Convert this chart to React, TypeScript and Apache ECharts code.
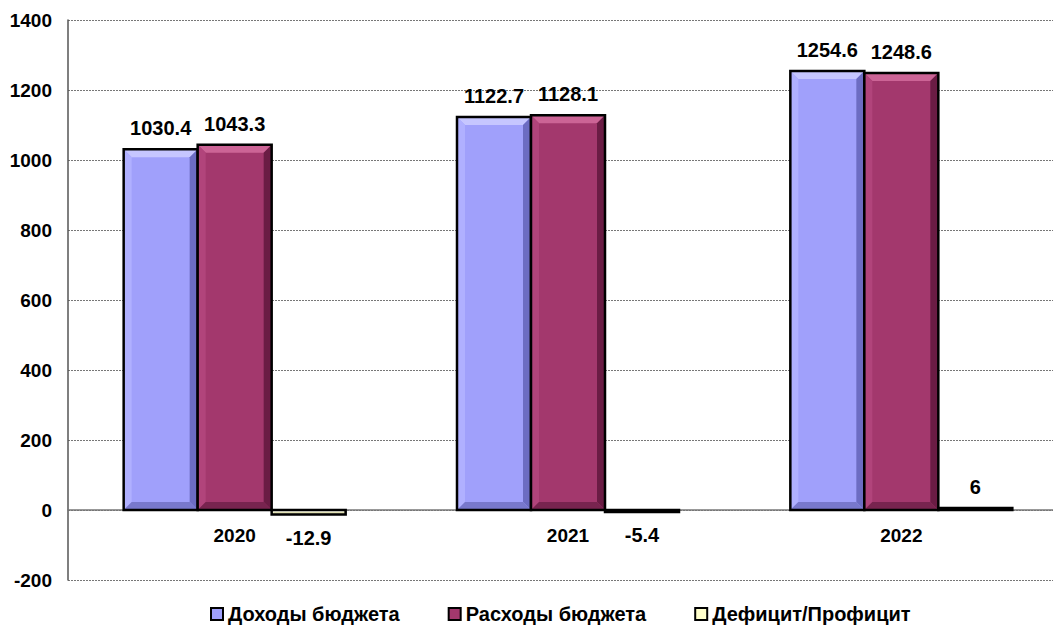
import React, { useEffect, useRef } from "react";
import * as echarts from "echarts";

const categories = ["2020", "2021", "2022"];
const seriesNames = ["Доходы бюджета", "Расходы бюджета", "Дефицит/Профицит"];
const incomes = [1030.4, 1122.7, 1254.6];
const expenses = [1043.3, 1128.1, 1248.6];
const balance = [-12.9, -5.4, 6];
const yTicks = { min: -200, max: 1400, interval: 200 };

const palettes = [
  { base: "#a0a0fb", top: "#c6c6ff", left: "#b0b0ff", right: "#6c6cc2", bottom: "#7878cc" },
  { base: "#a3386d", top: "#cc6496", left: "#b1447b", right: "#6a1c44", bottom: "#78244f" },
  { base: "#ffffcc", top: "#ffffee", left: "#ffffdd", right: "#cccc99", bottom: "#d8d8aa" },
];

const FONT = 'Arial, "Liberation Sans", sans-serif';

function makeRender(idx: number) {
  const pal = palettes[idx];
  return (params: any, api: any) => {
    const cat = api.value(0);
    const val = api.value(1);
    const base = api.coord([cat, 0]);
    const end = api.coord([cat, val]);
    const band = api.size([1, 0])[0];
    const w = band * 0.222;
    const x = base[0] - 1.5 * w + idx * w;
    const y = Math.min(base[1], end[1]);
    const h = Math.abs(base[1] - end[1]);
    const b = Math.min(8, h / 2, w / 2);
    const children: any[] = [
      { type: "rect", shape: { x, y, width: w, height: h }, style: { fill: pal.base } },
    ];
    if (b > 1) {
      children.push(
        { type: "polygon", shape: { points: [[x, y], [x + w, y], [x + w - b, y + b], [x + b, y + b]] }, style: { fill: pal.top } },
        { type: "polygon", shape: { points: [[x, y], [x + b, y + b], [x + b, y + h - b], [x, y + h]] }, style: { fill: pal.left } },
        { type: "polygon", shape: { points: [[x + w, y], [x + w, y + h], [x + w - b, y + h - b], [x + w - b, y + b]] }, style: { fill: pal.right } },
        { type: "polygon", shape: { points: [[x, y + h], [x + w, y + h], [x + w - b, y + h - b], [x + b, y + h - b]] }, style: { fill: pal.bottom } }
      );
    }
    children.push({
      type: "rect",
      shape: { x, y, width: w, height: Math.max(h, 0.5) },
      style: { fill: "none", stroke: "#000", lineWidth: 2.5 },
    });
    const neg = val < 0;
    children.push({
      type: "text",
      style: {
        text: String(val),
        x: x + w / 2,
        y: neg ? y + h + 13 : y - 11,
        align: "center",
        verticalAlign: neg ? "top" : "bottom",
        fill: "#000",
        fontSize: 20,
        fontWeight: "bold",
        fontFamily: FONT,
      },
    });
    return { type: "group", children };
  };
}

export default function App() {
  const ref = useRef<HTMLDivElement>(null);
  useEffect(() => {
    if (!ref.current) return;
    const chart = echarts.init(ref.current, null, { renderer: "svg" });
    const datasets = [incomes, expenses, balance];
    chart.setOption({
      animation: false,
      backgroundColor: "#fff",
      textStyle: { fontFamily: FONT },
      grid: { left: 68, right: 0, top: 20, bottom: 49 },
      legend: {
        top: 604,
        left: 210,
        padding: 0,
        itemGap: 48,
        itemWidth: 12,
        itemHeight: 12,
        icon: "rect",
        textStyle: { fontSize: 20, fontWeight: "bold", color: "#000", fontFamily: FONT },
        data: seriesNames,
      },
      xAxis: {
        type: "category",
        data: categories,
        offset: -70,
        axisLine: { onZero: false, lineStyle: { color: "#777", width: 1.5 } },
        axisTick: { show: false },
        axisLabel: { margin: 16, fontSize: 19, fontWeight: "bold", color: "#000", fontFamily: FONT },
        splitLine: { show: false },
      },
      yAxis: {
        type: "value",
        min: yTicks.min,
        max: yTicks.max,
        interval: yTicks.interval,
        axisLine: { show: true, lineStyle: { color: "#555", width: 1.5 } },
        axisTick: { show: false },
        axisLabel: {
          margin: 16,
          fontSize: 19,
          fontWeight: "bold",
          color: "#000",
          fontFamily: FONT,
          formatter: (v: number) => String(v),
        },
        splitLine: { show: true, lineStyle: { color: "#777", type: [2, 1], width: 1 } },
      },
      series: seriesNames.map((name, i) => ({
        name,
        type: "custom",
        renderItem: makeRender(i),
        itemStyle: { color: palettes[i].base, borderColor: "#000", borderWidth: 1.5 },
        encode: { x: 0, y: 1 },
        data: datasets[i].map((v, k) => [k, v]),
        z: 3,
      })),
    });
    return () => chart.dispose();
  }, []);
  return (
    <div
      style={{ position: "fixed", left: 0, top: 0, width: 1053, height: 629, overflow: "hidden" }}
    >
      <div ref={ref} style={{ width: 1068, height: 629 }} />
    </div>
  );
}
